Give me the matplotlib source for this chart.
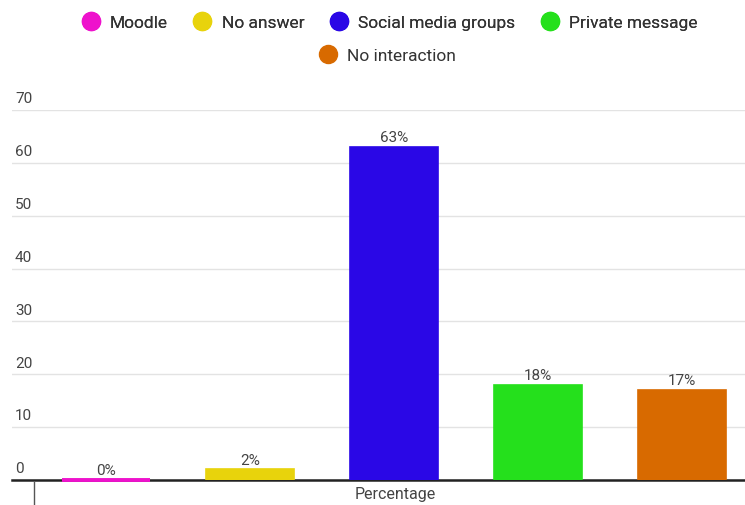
import matplotlib
matplotlib.use('Agg')
import matplotlib.pyplot as plt
from matplotlib.lines import Line2D

plt.rcParams['font.family'] = ['Roboto', 'DejaVu Sans']

categories = ['Moodle', 'No answer', 'Social media groups', 'Private message', 'No interaction']
values = [0, 2, 63, 18, 17]
labels = ['0%', '2%', '63%', '18%', '17%']
colors = ['#ee12cc', '#e8d30c', '#2a07e6', '#25e01c', '#d86a00']
yticks = [0, 10, 20, 30, 40, 50, 60, 70]
xlabel = 'Percentage'

W, H = 745, 506
fig = plt.figure(figsize=(W / 100, H / 100), dpi=100)
ax = fig.add_axes([12 / W, (H - 481) / H, 1 - 12 / W, (481 - 111) / H])

x = list(range(len(categories)))
bars = ax.bar(x, values, width=0.61, color=colors, edgecolor=colors, linewidth=1.2, zorder=5)
# zero bar shows as a thin coloured line on the baseline
for b, v in zip(bars, values):
    if v == 0:
        b.set_linewidth(2.8)
        b.set_clip_on(False)
for xi, v, lab in zip(x, values, labels):
    ax.text(xi, v + 0.5, lab, ha='center', va='bottom', fontsize=11, color='#444444')

ax.set_xlim(-0.655, 4.44)
ax.set_ylim(0, 70)
ax.set_yticks(yticks)
ax.tick_params(left=False, bottom=False, labelleft=False, labelbottom=False)
ax.grid(axis='y', color='#e3e3e3', linewidth=1, zorder=0)
for s in ['left', 'right', 'top']:
    ax.spines[s].set_visible(False)
ax.spines['bottom'].set_color('#222222')
ax.spines['bottom'].set_linewidth(1.8)
ax.spines['bottom'].set_zorder(4)

for t in yticks:
    ax.text(0.004, t + 0.9, str(t), transform=ax.get_yaxis_transform(),
            ha='left', va='bottom', fontsize=11, color='#444444')

fig.text(395 / W, (H - 495) / H, xlabel, ha='center', va='center', fontsize=11.5, color='#444444')
fig.add_artist(Line2D([34 / W, 34 / W], [(H - 483) / H, (H - 506) / H], color='#555555', linewidth=1))

handles = [Line2D([], [], marker='o', linestyle='none', markersize=13,
                  markerfacecolor=c, markeredgecolor=c) for c in colors]
leg1 = fig.legend(handles[:4], categories[:4], loc='center', bbox_to_anchor=(388 / W, (H - 23) / H),
                  ncol=4, frameon=False, fontsize=12.5, handletextpad=0.4, columnspacing=1.3,
                  handlelength=1.4, labelcolor='#333333')
fig.add_artist(leg1)
fig.legend(handles[4:], categories[4:], loc='center', bbox_to_anchor=(386 / W, (H - 56) / H),
           frameon=False, fontsize=12.5, handletextpad=0.4, handlelength=1.4, labelcolor='#333333')

fig.savefig('out.png', dpi=100)
